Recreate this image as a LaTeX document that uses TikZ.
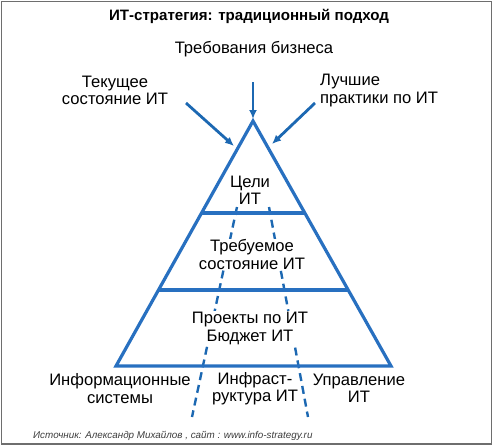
\documentclass[tikz,border=0pt]{standalone}
\usepackage{fontspec}
\setmainfont{Liberation Sans}
\usetikzlibrary{arrows.meta,calc}
\definecolor{tblue}{RGB}{40,112,192}
\definecolor{ablue}{RGB}{28,104,178}
\definecolor{frame}{RGB}{110,110,110}
\begin{document}
\begin{tikzpicture}[x=1pt,y=-1pt,
  lbl/.style={font=\fontsize{16.6}{17.3}\selectfont, align=center, inner sep=1pt, text=black},
  inlbl/.style={lbl, fill=white},
  tri/.style={draw=tblue, line width=3.2pt, line join=miter},
  arr/.style={draw=ablue, line width=2.8pt, -{Latex[length=9pt,width=8pt]}},
  dsh/.style={draw=ablue, line width=2.4pt, dash pattern=on 8pt off 5pt}]
\useasboundingbox (0,0) rectangle (493,447);
\draw[frame, line width=1.4pt] (1.5,1.5) rectangle (491.5,444);
% geometry
\coordinate (A) at (253,121);
\coordinate (L) at (116,366);
\coordinate (R) at (391,366);
\coordinate (d1s) at (237,207);
\coordinate (d1e) at (192,417);
\coordinate (d2s) at (269,207);
\coordinate (d2e) at (308,417);
% dashed lines (behind)
\draw[dsh] (d1s) -- (d1e);
\draw[dsh] (d2s) -- (d2e);
% triangle
\draw[tri] (A) -- (L) -- (R) -- cycle;
\coordinate (h1l) at ($(A)!0.3755!(L)$);
\coordinate (h1r) at ($(A)!0.3755!(R)$);
\coordinate (h2l) at ($(A)!0.6898!(L)$);
\coordinate (h2r) at ($(A)!0.6898!(R)$);
\draw[tri] (h1l) -- (h1r);
\draw[tri] (h2l) -- (h2r);
% arrows
\coordinate (a0s) at (253,82);
\coordinate (a0e) at (253,119);
\coordinate (a1s) at (186,103);
\coordinate (a1e) at (234,146);
\coordinate (a2s) at (315,103);
\coordinate (a2e) at (272,144);
\draw[arr] (a0s) -- (a0e);
\draw[arr] (a1s) -- (a1e);
\draw[arr] (a2s) -- (a2e);
% texts
\node[font=\bfseries\fontsize{15.1}{17}\selectfont] (title) at (249,16) {ИТ-стратегия: традиционный подход};
\node[lbl] (biz) at (254,49) {Требования бизнеса};
\node[lbl] (cur) at (115,90.5) {Текущее\\состояние ИТ};
\node[lbl, align=left, anchor=west] (best) at (319,90.5) {Лучшие\\практики по ИТ};
\node[inlbl] (goals) at (250,190) {Цели\\ИТ};
\node[inlbl] (req) at (252,254.5) {Требуемое\\состояние ИТ};
\node[inlbl] (proj) at (250,328.5) {Проекты по ИТ\\Бюджет ИТ};
\node[lbl] (is) at (120,388.5) {Информационные\\системы};
\node[lbl] (infra) at (255,388.5) {Инфраст-\\руктура ИТ};
\node[lbl] (mgmt) at (359,388.5) {Управление\\ИТ};
\node[font=\itshape\fontsize{9.85}{11}\selectfont, text={rgb,255:red,60;green,60;blue,60}, anchor=west, inner sep=0pt] (src) at (33,436) {Источник: Александр Михайлов , сайт : www.info-strategy.ru};
\end{tikzpicture}
\end{document}
